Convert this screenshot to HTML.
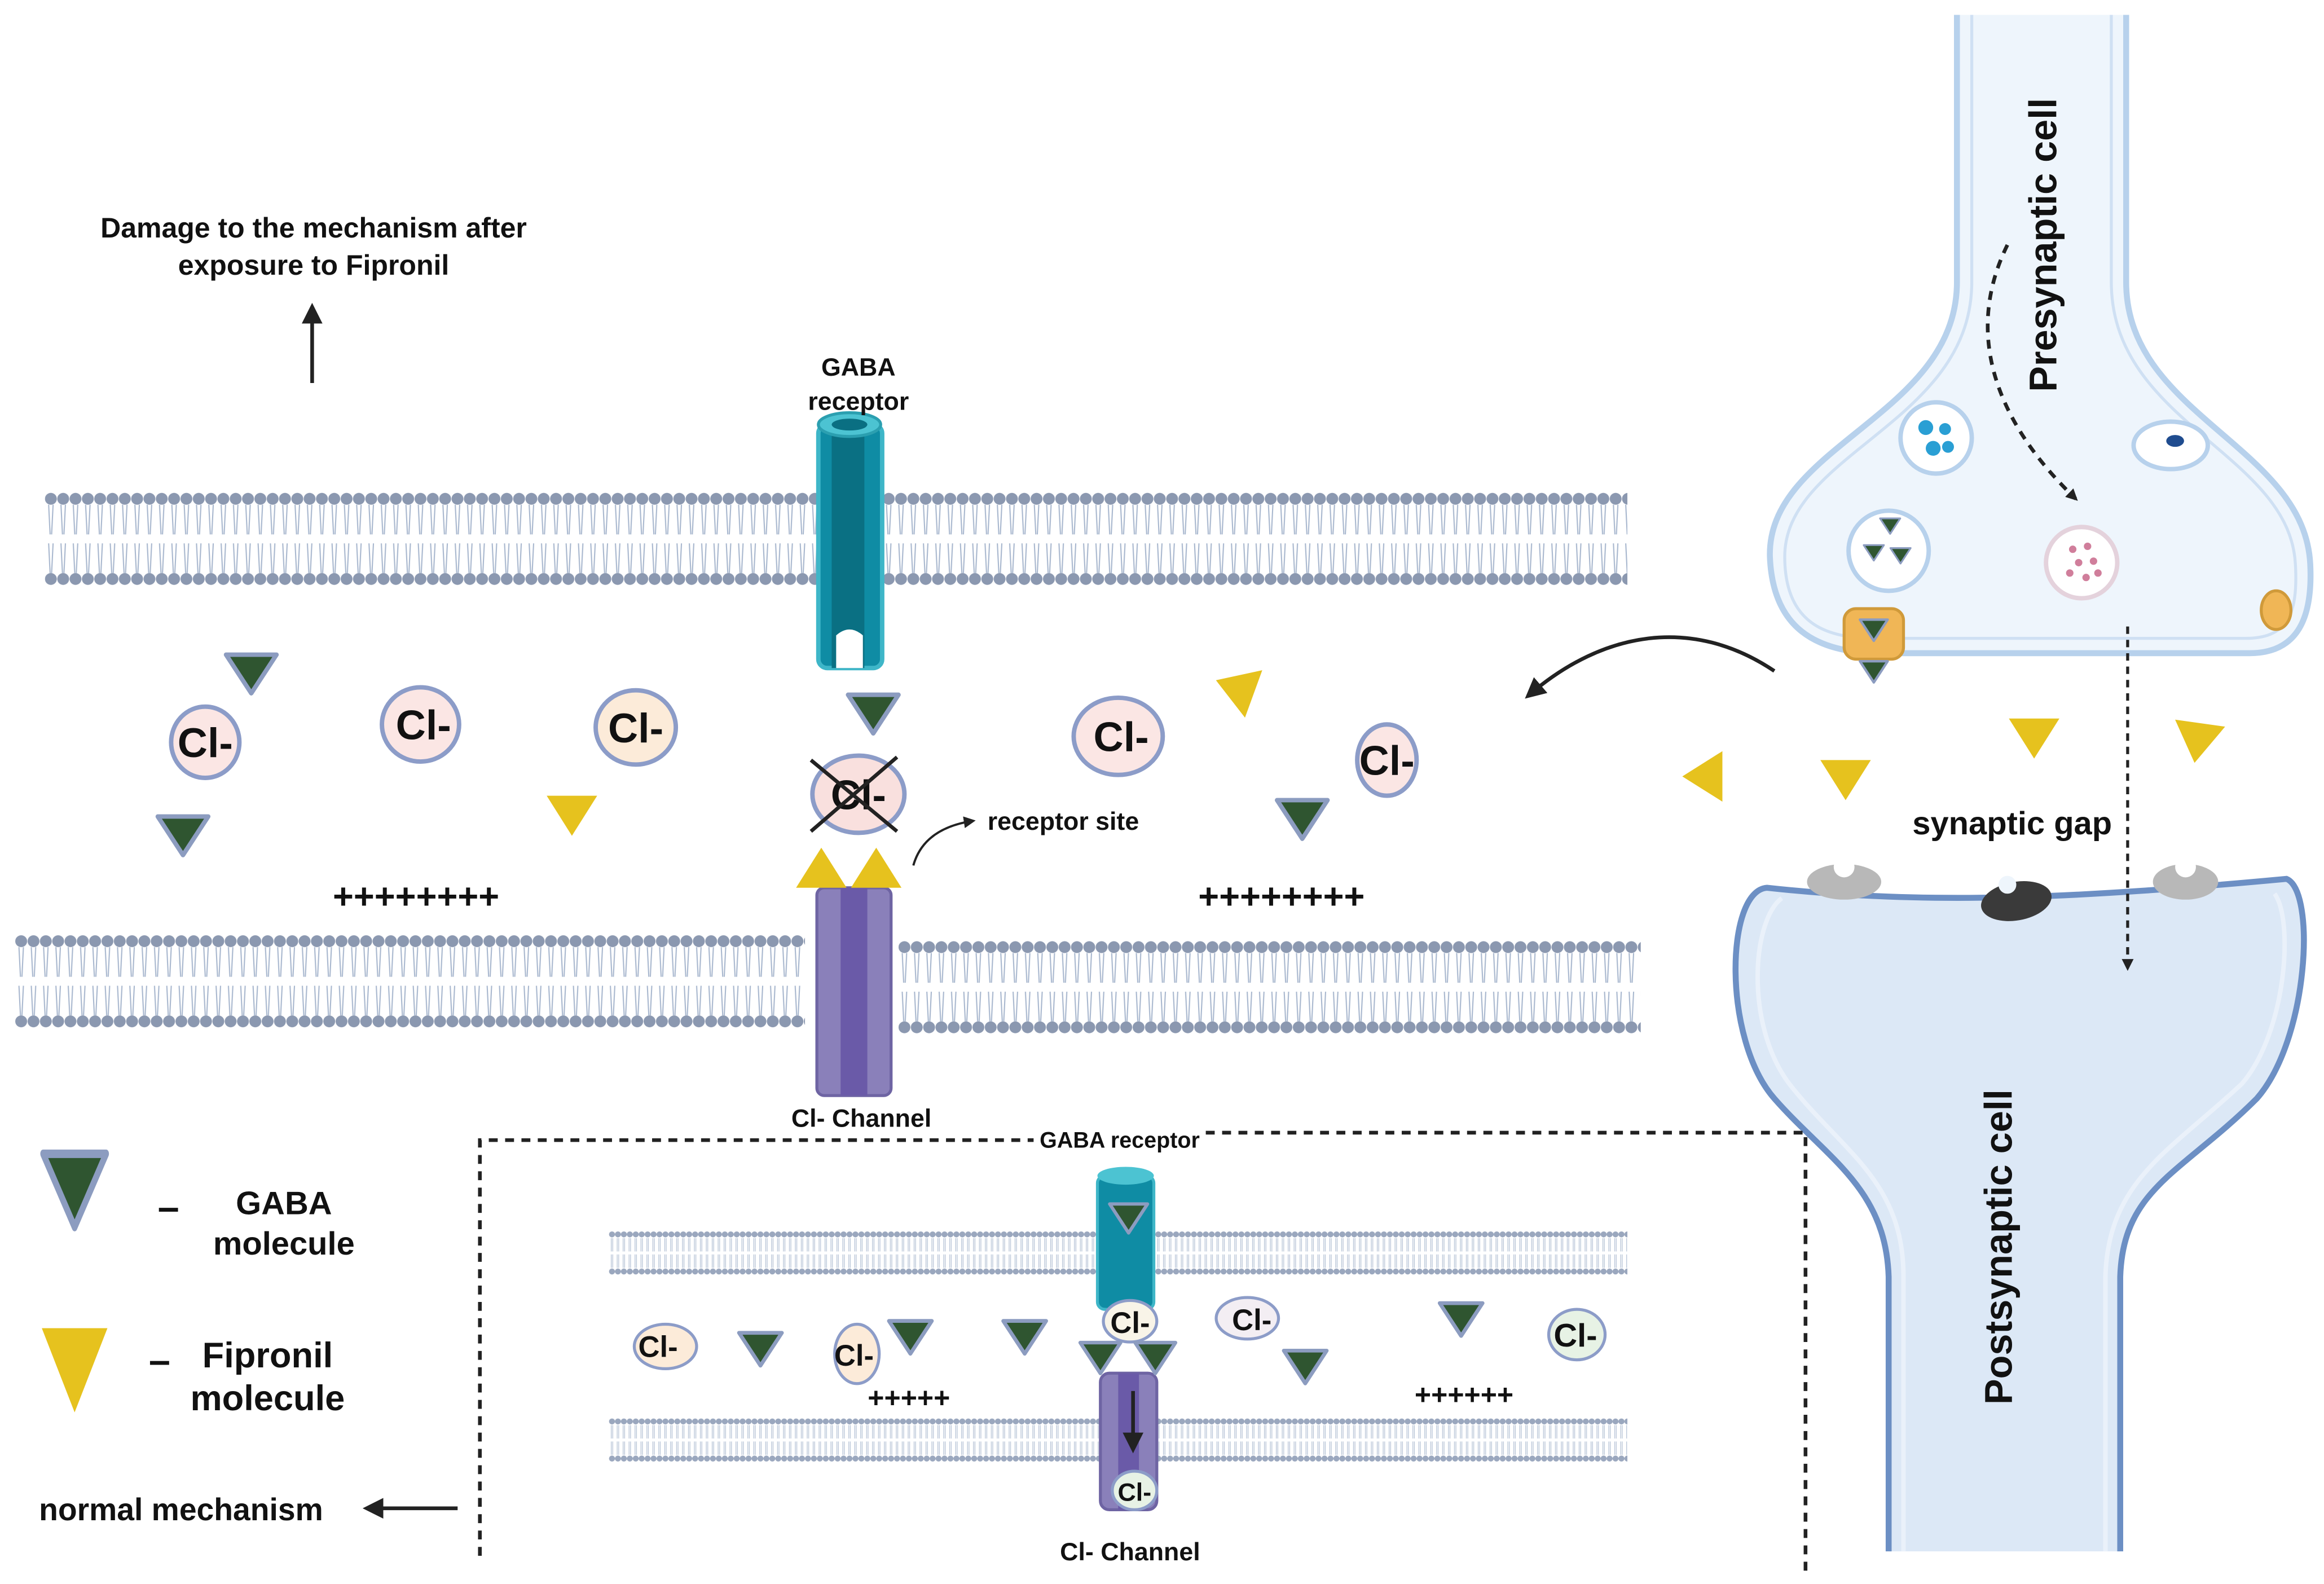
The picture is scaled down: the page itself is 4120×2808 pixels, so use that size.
<!DOCTYPE html>
<html><head><meta charset="utf-8"><style>html,body{margin:0;padding:0;background:#fff}svg{display:block}text{font-family:"Liberation Sans",sans-serif;font-weight:bold;fill:#111}</style></head>
<body>
<svg width="4120" height="2808" viewBox="0 0 1565 1067" xmlns="http://www.w3.org/2000/svg">
<defs>
<pattern id="m1" patternUnits="userSpaceOnUse" x="30" y="330" width="8.3" height="66">
<circle cx="4" cy="6" r="4" fill="#8b98b0"/><circle cx="4" cy="60" r="4" fill="#8b98b0"/>
<path d="M2.5 10 L3.5 30 M5.5 10 L4.5 30 M2.5 36 L3.5 56 M5.5 36 L4.5 56" stroke="#a8b7ce" stroke-width="0.8"/></pattern>
<pattern id="m2" patternUnits="userSpaceOnUse" x="10" y="628" width="8.3" height="66">
<circle cx="4" cy="6" r="4" fill="#8b98b0"/><circle cx="4" cy="60" r="4" fill="#8b98b0"/>
<path d="M2.5 10 L3.5 30 M5.5 10 L4.5 30 M2.5 36 L3.5 56 M5.5 36 L4.5 56" stroke="#a8b7ce" stroke-width="0.8"/></pattern>
<pattern id="m3" patternUnits="userSpaceOnUse" x="605" y="632" width="8.3" height="66">
<circle cx="4" cy="6" r="4" fill="#8b98b0"/><circle cx="4" cy="60" r="4" fill="#8b98b0"/>
<path d="M2.5 10 L3.5 30 M5.5 10 L4.5 30 M2.5 36 L3.5 56 M5.5 36 L4.5 56" stroke="#a8b7ce" stroke-width="0.8"/></pattern>
<pattern id="m4" patternUnits="userSpaceOnUse" x="410" y="829" width="4" height="30">
<circle cx="2" cy="2.5" r="2" fill="#9aa7be"/><circle cx="2" cy="27.5" r="2" fill="#9aa7be"/>
<path d="M1.5 5 L1.5 14 M2.5 5 L2.5 14 M1.5 16 L1.5 25 M2.5 16 L2.5 25" stroke="#b6c3d6" stroke-width="0.5"/></pattern>
<pattern id="m5" patternUnits="userSpaceOnUse" x="410" y="955" width="4" height="30">
<circle cx="2" cy="2.5" r="2" fill="#9aa7be"/><circle cx="2" cy="27.5" r="2" fill="#9aa7be"/>
<path d="M1.5 5 L1.5 14 M2.5 5 L2.5 14 M1.5 16 L1.5 25 M2.5 16 L2.5 25" stroke="#b6c3d6" stroke-width="0.5"/></pattern>
<marker id="ah" markerWidth="8" markerHeight="8" refX="6" refY="4" orient="auto" markerUnits="userSpaceOnUse"><path d="M0 0 L8 4 L0 8 z" fill="#222"/></marker>
<marker id="ahb" markerWidth="14" markerHeight="14" refX="10" refY="7" orient="auto" markerUnits="userSpaceOnUse"><path d="M0 0 L14 7 L0 14 z" fill="#222"/></marker>
<g id="gaba"><path d="M-17 -12 L17 -12 L0 14 Z" fill="#2f5530" stroke="#8c9cc0" stroke-width="3" stroke-linejoin="round"/></g>
<g id="fip"><path d="M-17 -13 L17 -13 L0 14 Z" fill="#e6c21e"/></g>
</defs>

<rect x="30" y="330" width="1066" height="66" fill="url(#m1)"/>
<rect x="10" y="628" width="532" height="66" fill="url(#m2)"/>
<rect x="605" y="632" width="500" height="66" fill="url(#m3)"/>
<rect x="410" y="829" width="686" height="30" fill="url(#m4)"/>
<rect x="410" y="955" width="686" height="30" fill="url(#m5)"/>

<path d="M1318 10 L1318 190 C1318 280 1190 300 1192 375 C1194 425 1225 438 1260 440 L1515 440 C1545 440 1558 420 1556 380 C1552 300 1432 280 1432 190 L1432 10" fill="#eef5fc" stroke="#b7d1ec" stroke-width="4"/>
<path d="M1328 10 L1328 190 C1328 285 1202 305 1202 375 C1202 420 1230 430 1262 430 L1512 430 C1540 430 1548 415 1546 380 C1542 305 1422 285 1422 190 L1422 10" fill="none" stroke="#cfe0f3" stroke-width="2"/>
<path d="M1190 598 C1300 610 1400 605 1540 592 C1560 600 1555 700 1520 740 C1470 790 1430 800 1428 860 L1428 1045 L1272 1045 L1272 860 C1270 800 1230 780 1195 740 C1160 700 1162 600 1190 598 Z" fill="#dce8f6"/>
<path d="M1272 1045 L1272 860 C1270 800 1230 780 1195 740 C1160 700 1162 600 1190 598 C1300 610 1400 605 1540 592 C1560 600 1555 700 1520 740 C1470 790 1430 800 1428 860 L1428 1045" fill="none" stroke="#6c8fc4" stroke-width="4"/>
<path d="M1200 605 C1180 620 1175 690 1205 730 C1240 775 1282 795 1282 860 L1282 1045 M1418 1045 L1418 860 C1420 795 1462 775 1510 730 C1540 695 1545 620 1532 602" fill="none" stroke="#eaf1fa" stroke-width="3"/>
<ellipse cx="1242" cy="594" rx="25" ry="12" fill="#b8b8b8"/><circle cx="1242" cy="584" r="7" fill="#fff"/>
<ellipse cx="1472" cy="594" rx="22" ry="12" fill="#b8b8b8"/><circle cx="1472" cy="584" r="7" fill="#fff"/>
<ellipse cx="1358" cy="607" rx="24" ry="13" fill="#3a3a3a" transform="rotate(-10 1358 607)"/><circle cx="1352" cy="596" r="6" fill="#eef5fc"/>
<circle cx="1304" cy="295" r="24" fill="#fff" stroke="#b7d1ec" stroke-width="3"/>
<circle cx="1297" cy="288" r="5" fill="#2a9fd4"/><circle cx="1310" cy="289" r="4" fill="#2a9fd4"/><circle cx="1302" cy="302" r="5" fill="#2a9fd4"/><circle cx="1312" cy="301" r="4" fill="#2a9fd4"/>
<ellipse cx="1462" cy="300" rx="25" ry="16" fill="#fff" stroke="#b7d1ec" stroke-width="3"/><ellipse cx="1465" cy="297" rx="6" ry="4" fill="#1f4c8f"/>
<circle cx="1272" cy="371" r="27" fill="#fff" stroke="#b7d1ec" stroke-width="3"/>
<g transform="translate(1273 354) scale(0.4)"><use href="#gaba"/></g><g transform="translate(1262 372) scale(0.4)"><use href="#gaba"/></g><g transform="translate(1280 374) scale(0.4)"><use href="#gaba"/></g>
<circle cx="1402" cy="379" r="24" fill="#fff" stroke="#e4d2dc" stroke-width="3"/>
<g fill="#d07e9b"><circle cx="1396" cy="370" r="2.5"/><circle cx="1406" cy="368" r="2.5"/><circle cx="1400" cy="379" r="2.5"/><circle cx="1410" cy="378" r="2.5"/><circle cx="1394" cy="386" r="2.5"/><circle cx="1405" cy="389" r="2.5"/><circle cx="1413" cy="386" r="2.5"/></g>
<rect x="1242" y="410" width="40" height="34" rx="8" fill="#f0b656" stroke="#d09a3a" stroke-width="2"/>
<g transform="translate(1262 424) scale(0.55)"><use href="#gaba"/></g><g transform="translate(1262 452) scale(0.55)"><use href="#gaba"/></g>
<ellipse cx="1533" cy="411" rx="10" ry="13" fill="#f0b656" stroke="#d09a3a" stroke-width="2"/>
<text x="1385" y="165" font-size="26" transform="rotate(-90 1385 165)" text-anchor="middle">Presynaptic cell</text>
<text x="1355" y="840" font-size="26" transform="rotate(-90 1355 840)" text-anchor="middle">Postsynaptic cell</text>
<text x="1288" y="562" font-size="22">synaptic gap</text>
<path d="M1352 165 C1320 230 1350 290 1398 336" fill="none" stroke="#222" stroke-width="2.5" stroke-dasharray="6 5" marker-end="url(#ah)"/>
<path d="M1433 422 L1433 652" fill="none" stroke="#222" stroke-width="2" stroke-dasharray="5 4" marker-end="url(#ah)"/>
<path d="M1195 452 C1140 415 1080 425 1030 468" fill="none" stroke="#222" stroke-width="2.5" marker-end="url(#ahb)"/>

<use href="#fip" x="1370" y="497"/><use href="#fip" x="1480" y="500" transform="rotate(8 1480 500)"/>
<use href="#fip" x="1243" y="525"/>
<g transform="translate(1147 523) rotate(90)"><use href="#fip"/></g>
<g transform="translate(832 463) rotate(110)"><use href="#fip"/></g>
<use href="#fip" x="385" y="549"/>

<rect x="551" y="286" width="43" height="164" rx="6" fill="#0f8ca4" stroke="#3eb6c8" stroke-width="3"/>
<rect x="560" y="290" width="22" height="160" fill="#0a7083"/>
<ellipse cx="572" cy="286" rx="21" ry="8" fill="#4cc3d2" stroke="#2b9fb0" stroke-width="2"/>
<ellipse cx="572" cy="286" rx="12" ry="4" fill="#0a6f82"/>
<path d="M563 450 L563 428 Q572 420 581 428 L581 450 Z" fill="#fff"/>
<text x="578" y="253" font-size="17" text-anchor="middle">GABA</text>
<text x="578" y="276" font-size="17" text-anchor="middle">receptor</text>

<rect x="550" y="598" width="50" height="140" rx="5" fill="#8a80ba" stroke="#6e64a3" stroke-width="2"/>
<rect x="566" y="598" width="18" height="140" fill="#6a5aa8"/>
<use href="#fip" x="553" y="585" transform="rotate(180 553 585)"/>
<use href="#fip" x="590" y="585" transform="rotate(180 590 585)"/>
<text x="580" y="759" font-size="17" text-anchor="middle">Cl- Channel</text>

<g font-size="28" text-anchor="middle">
<ellipse cx="138" cy="500" rx="23" ry="24" fill="#fbe6e4" stroke="#8c9cc8" stroke-width="3"/><text x="138" y="510">Cl-</text>
<ellipse cx="283" cy="488" rx="26" ry="25" fill="#fbe6e4" stroke="#8c9cc8" stroke-width="3"/><text x="285" y="498">Cl-</text>
<ellipse cx="428" cy="490" rx="27" ry="25" fill="#fcebd9" stroke="#8c9cc8" stroke-width="3"/><text x="428" y="500">Cl-</text>
<ellipse cx="578" cy="535" rx="31" ry="26" fill="#f9e0de" stroke="#8c9cc8" stroke-width="3"/><text x="578" y="545">Cl-</text>
<ellipse cx="753" cy="496" rx="30" ry="26" fill="#fbe6e4" stroke="#8c9cc8" stroke-width="3"/><text x="755" y="506">Cl-</text>
<ellipse cx="934" cy="512" rx="20" ry="24" fill="#fbe6e4" stroke="#8c9cc8" stroke-width="3"/><text x="934" y="522">Cl-</text>
</g>
<path d="M546 512 L604 560 M546 560 L604 510" stroke="#222" stroke-width="2.5"/>
<use href="#gaba" x="169" y="453"/><use href="#gaba" x="123" y="562"/><use href="#gaba" x="588" y="480"/><use href="#gaba" x="877" y="551"/>
<text x="280" y="612" font-size="24" font-weight="normal" text-anchor="middle">++++++++</text>
<text x="863" y="612" font-size="24" font-weight="normal" text-anchor="middle">++++++++</text>
<path d="M615 583 C620 565 635 556 655 553" fill="none" stroke="#222" stroke-width="1.5" marker-end="url(#ah)"/>
<text x="665" y="559" font-size="17">receptor site</text>

<text x="211" y="160" font-size="19" text-anchor="middle">Damage to the mechanism after</text>
<text x="211" y="185" font-size="19" text-anchor="middle">exposure to Fipronil</text>
<path d="M210 258 L210 208" stroke="#222" stroke-width="2.5" marker-end="url(#ahb)"/>

<g transform="translate(50 800) scale(1.25 1.9)"><use href="#gaba"/></g>
<text x="106" y="822" font-size="26">–</text>
<text x="191" y="818" font-size="22" text-anchor="middle">GABA</text>
<text x="191" y="845" font-size="22" text-anchor="middle">molecule</text>
<g transform="translate(50 922) scale(1.3 2.1)"><use href="#fip"/></g>
<text x="100" y="925" font-size="26">–</text>
<text x="180" y="921" font-size="24" text-anchor="middle">Fipronil</text>
<text x="180" y="950" font-size="24" text-anchor="middle">molecule</text>
<text x="26" y="1024" font-size="21">normal mechanism</text>
<path d="M308 1016 L248 1016" stroke="#222" stroke-width="2.5" marker-end="url(#ahb)"/>

<path d="M323 1048 L323 768 L696 768 M812 763 L1216 763 L1216 1058" fill="none" stroke="#222" stroke-width="2.5" stroke-dasharray="6 5"/>
<text x="754" y="773" font-size="15" text-anchor="middle">GABA receptor</text>
<rect x="739" y="792" width="38" height="90" rx="5" fill="#0f8ca4" stroke="#3eb6c8" stroke-width="2"/>
<ellipse cx="758" cy="792" rx="19" ry="6" fill="#4cc3d2"/>
<g transform="translate(760 820) scale(0.75)"><use href="#gaba"/></g>
<rect x="741" y="925" width="38" height="92" rx="6" fill="#8a80ba" stroke="#6e64a3" stroke-width="2"/>
<rect x="753" y="925" width="14" height="92" fill="#6a5aa8"/>
<path d="M763 937 L763 975" stroke="#222" stroke-width="2.5" marker-end="url(#ahb)"/>
<g font-size="20" text-anchor="middle">
<ellipse cx="761" cy="890" rx="18" ry="14" fill="#f8f4e8" stroke="#8c9cc8" stroke-width="2"/><text x="761" y="898">Cl-</text>
<ellipse cx="764" cy="1004" rx="15" ry="13" fill="#e7f2e5" stroke="#8c9cc8" stroke-width="2"/><text x="764" y="1011" font-size="17">Cl-</text>
<ellipse cx="448" cy="907" rx="21" ry="15" fill="#fcebd9" stroke="#8c9cc8" stroke-width="2"/><text x="443" y="914">Cl-</text>
<ellipse cx="577" cy="912" rx="15" ry="20" fill="#fcebd9" stroke="#8c9cc8" stroke-width="2"/><text x="575" y="920">Cl-</text>
<ellipse cx="840" cy="888" rx="21" ry="14" fill="#f3eef3" stroke="#8c9cc8" stroke-width="2"/><text x="843" y="896">Cl-</text>
<ellipse cx="1062" cy="899" rx="19" ry="17" fill="#e7f2e5" stroke="#8c9cc8" stroke-width="2"/><text x="1061" y="907" font-size="22">Cl-</text>
</g>
<g transform="translate(512 908) scale(0.85)"><use href="#gaba"/></g>
<g transform="translate(613 900) scale(0.85)"><use href="#gaba"/></g>
<g transform="translate(690 900) scale(0.85)"><use href="#gaba"/></g>
<g transform="translate(741 914) scale(0.8)"><use href="#gaba"/></g>
<g transform="translate(778 914) scale(0.8)"><use href="#gaba"/></g>
<g transform="translate(879 920) scale(0.85)"><use href="#gaba"/></g>
<g transform="translate(984 888) scale(0.85)"><use href="#gaba"/></g>
<text x="612" y="948" font-size="19" font-weight="normal" text-anchor="middle">+++++</text>
<text x="986" y="946" font-size="19" font-weight="normal" text-anchor="middle">++++++</text>
<text x="761" y="1051" font-size="17" text-anchor="middle">Cl- Channel</text>
</svg>
</body></html>
